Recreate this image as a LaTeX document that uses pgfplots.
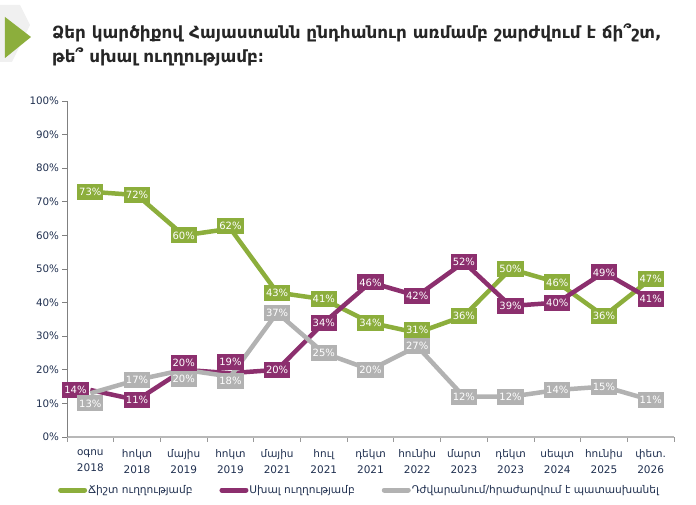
\documentclass[border=0pt]{standalone}
\usepackage{fontspec}
\setmainfont{DejaVu Sans}
\usepackage{pgfplots}
\usepackage{pgfplotstable}
\pgfplotsset{compat=1.18}
\definecolor{cg}{HTML}{8CAE3C}
\definecolor{cp}{HTML}{8C2F6E}
\definecolor{cy}{HTML}{B2B2B2}
\definecolor{navy}{HTML}{1F2F4F}
\definecolor{ttl}{HTML}{262626}

% x y = data; lx ly = label box position
\pgfplotstableread{
x y lx ly
0 73 0 73
1 72 1 72
2 60 2 60
3 62 3 62.9
4 43 4 43
5 41 5 41
6 34 6 34
7 31 7 31.9
8 36 8 36
9 50 9 50
10 46 10 46
11 36 11 36
12 47 12 47
}\tgreen
\pgfplotstableread{
x y lx ly
0 14 -0.32 14
1 11 1 11
2 20 2 22.1
3 19 3 22.3
4 20 4 20
5 34 5 34
6 46 6 46
7 42 7 42
8 52 8 52
9 39 9 39
10 40 10 40
11 49 11 49
12 41 12 41
}\tpurple
\pgfplotstableread{
x y lx ly
0 13 0 10
1 17 1 17
2 20 2 17.3
3 18 3 16.8
4 37 4 37
5 25 5 25
6 20 6 20
7 27 7 27
8 12 8 12
9 12 9 12
10 14 10 14
11 15 11 15
12 11 12 11
}\tgray

\begin{document}
\begin{tikzpicture}
\path[use as bounding box] (-67pt,-67pt) rectangle (629pt,437pt);
% decoration
\fill[black!6] (-67pt,432pt) -- (-47pt,432pt) -- (-37pt,412pt) -- (-55pt,375pt) -- (-67pt,375pt) -- cycle;
\fill[cg] (-62pt,420pt) -- (-62pt,379pt) -- (-36pt,400pt) -- cycle;
\node[anchor=west, align=left, text=ttl, font=\bfseries\fontsize{16.8}{24}\selectfont, inner sep=0pt] at (-15pt,392pt)
  {Ձեր կարծիքով Հայաստանն ընդհանուր առմամբ շարժվում է ճի՞շտ,\\թե՞ սխալ ուղղությամբ։};
\begin{axis}[
  at={(0pt,0pt)}, anchor=south west,
  scale only axis, width=607pt, height=336pt,
  xmin=-0.5, xmax=12.5, ymin=0, ymax=100,
  axis x line*=bottom, axis y line*=left,
  axis line style={-},
  x axis line style={draw=black!28, line width=1.4pt},
  y axis line style={draw=black!50, line width=0.8pt},
  tick align=outside,
  major tick length=4.5pt,
  xtick={-0.5,0.5,...,12.5},
  x tick label as interval,
  xticklabels={{օգոս\\2018},{հոկտ\\2018},{մայիս\\2019},{հոկտ\\2019},{մայիս\\2021},{հուլ\\2021},{դեկտ\\2021},{հունիս\\2022},{մարտ\\2023},{դեկտ\\2023},{սեպտ\\2024},{հունիս\\2025},{փետ.\\2026}},
  xticklabel style={align=center, font=\fontsize{10.5}{16}\selectfont, text=navy, yshift=-4.5pt},
  x tick style={draw=black!40, line width=0.8pt},
  ytick={0,10,...,100},
  yticklabel={\pgfmathprintnumber{\tick}\%},
  yticklabel style={font=\fontsize{10.3}{11}\selectfont, text=navy},
  y tick style={draw=black!50, line width=0.8pt},
  /pgf/number format/assume math mode=true,
  legend columns=3,
  legend style={at={(axis description cs:-0.015,-0.158)}, anchor=west, draw=none, fill=none, inner sep=0pt,
    font=\fontsize{10.6}{12}\selectfont, text=navy,
    nodes={inner xsep=1pt},
    /tikz/every odd column/.append style={column sep=0pt},
    /tikz/every even column/.append style={column sep=26pt}},
  legend cell align=left,
  legend image code/.code={\draw[#1, line width=5pt, line cap=round] (0pt,0pt) -- (24pt,0pt);},
  clip=false,
]
\addplot[cg, line width=4.5pt] table[x=x,y=y] {\tgreen};
\addlegendentry{Ճիշտ ուղղությամբ}
\addplot[cp, line width=4.5pt] table[x=x,y=y] {\tpurple};
\addlegendentry{Սխալ ուղղությամբ}
\addplot[cy, line width=4.5pt] table[x=x,y=y] {\tgray};
\addlegendentry{Դժվարանում/հրաժարվում է պատասխանել}

\pgfplotsset{lbl/.style={draw=none, forget plot, mark=none, point meta=explicit,
  nodes near coords={\pgfmathprintnumber[fixed,precision=0]{\pgfplotspointmeta}\%},
  every node near coord/.append style={anchor=center, fill=#1, text=white,
    font=\fontsize{10}{11}\selectfont, inner xsep=2pt, inner ysep=0pt,
    minimum height=16pt}}}
\addplot[lbl=cg] table[x=lx,y=ly,meta=y] {\tgreen};
\addplot[lbl=cp] table[x=lx,y=ly,meta=y] {\tpurple};
\addplot[lbl=cy] table[x=lx,y=ly,meta=y] {\tgray};
\end{axis}
\end{tikzpicture}
\end{document}
